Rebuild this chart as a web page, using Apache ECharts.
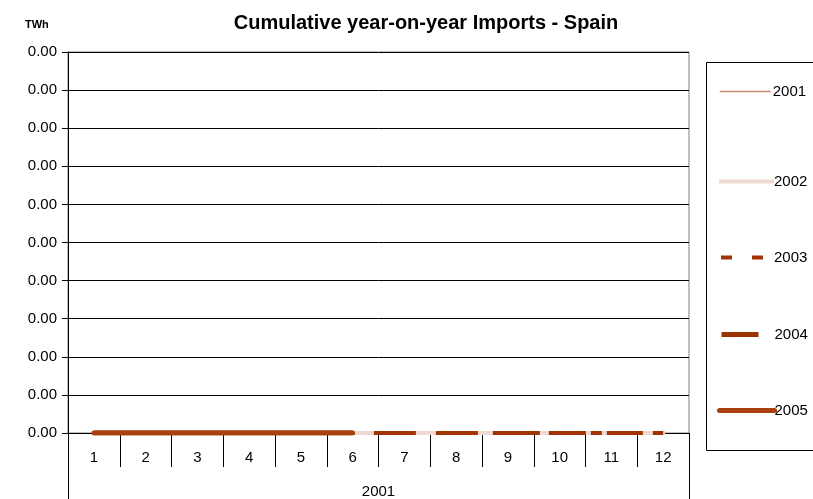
<!DOCTYPE html>
<html>
<head>
<meta charset="utf-8">
<script src="https://cdn.jsdelivr.net/npm/echarts@6/dist/echarts.min.js"></script>
<style>html,body{margin:0;padding:0;background:#fff}#c{width:813px;height:499px}</style>
</head>
<body>
<div id="c"></div>
<script>
const months = ['1','2','3','4','5','6','7','8','9','10','11','12'];
const groupLabels = ['2001'];
const seriesNames = ['2001','2002','2003','2004','2005'];
const v2001 = [0,0,0,0,0,0,0,0,0,0,0,0];
const v2002 = [0,0,0,0,0,0,0,0,0,0,0,0];
const v2003 = [0,0,0,0,0,0,0,0,0,0,0,0];
const v2004 = [0,0,0,0,0,0,null,null,null,null,null,null];
const v2005 = [0,0,0,0,0,0,null,null,null,null,null,null];
const yMin = 0, yMax = 0.001, yStep = 0.0001;

const FONT = '"Liberation Sans", Arial, sans-serif';
const dash2003 = [259,21,42,20,42,15,47,9,37,5,11,5,36,10,40];
const styles = [
  {color:'#c98a6e', width:1.5, type:'solid', cap:'butt', legendType:'solid', iw:51, pad:-3},
  {color:'#eedad1', width:4, type:'solid', cap:'square', legendType:'solid', iw:55, pad:-5},
  {color:'#a33300', width:4, type:dash2003, cap:'butt', legendType:[11,20], iw:42, pad:6},
  {color:'#993300', width:5, type:'solid', cap:'butt', legendType:'solid', iw:37, pad:11},
  {color:'#a8400f', width:5, type:'solid', cap:'round', legendType:'solid', iw:55, pad:-5}
];
const values = [v2001, v2002, v2003, v2004, v2005];
const legendY = [91, 181, 257, 334, 410];
const legendX = [719, 717, 719, 719, 717];

const chart = echarts.init(document.getElementById('c'), null, {renderer:'canvas'});
const series = seriesNames.map((n,i)=>({
  name:n, type:'line', data:values[i], symbol:'none', connectNulls:false,
  lineStyle:{color:styles[i].color, width:styles[i].width, type:styles[i].type, cap:styles[i].cap},
  itemStyle:{color:styles[i].color},
  z: 2+i, animation:false
}));
const legends = seriesNames.map((n,i)=>({
  data:[n], orient:'vertical', left:legendX[i], top:legendY[i]-7, padding:0,
  itemWidth:styles[i].iw, itemHeight:14,
  itemStyle:{opacity:0},
  lineStyle:{type:styles[i].legendType, width:styles[i].width, cap:styles[i].cap === 'square' ? 'butt' : styles[i].cap},
  textStyle:{fontFamily:FONT, fontSize:15, color:'#000', padding:[0,0,0,styles[i].pad]},
  selectedMode:false
}));
chart.setOption({
  animation:false,
  backgroundColor:'#fff',
  title:[
    {text:'Cumulative year-on-year Imports - Spain', left:421, textAlign:'center', top:8,
     textStyle:{fontFamily:FONT, fontSize:20, fontWeight:'bold', color:'#000'}},
    {text:'TWh', left:20, top:14, textStyle:{fontFamily:FONT, fontSize:11, fontWeight:'bold', color:'#000'}}
  ],
  legend: legends,
  graphic:[{type:'rect', shape:{x:706.5, y:62.5, width:130, height:388}, style:{fill:'none', stroke:'#000', lineWidth:1}, silent:true, z:-1}],
  grid:{left:68, right:124, top:52, bottom:66, show:true, borderColor:'#808080', borderWidth:1, backgroundColor:'transparent'},
  xAxis:[
    {type:'category', data:months, position:'bottom', boundaryGap:true,
     axisLine:{show:true, lineStyle:{color:'#000', width:1}},
     axisTick:{show:true, length:34, interval:0, alignWithLabel:false, lineStyle:{color:'#000'}},
     axisLabel:{fontFamily:FONT, fontSize:15, color:'#000', margin:17, interval:0}},
    {type:'category', data:groupLabels, position:'bottom', boundaryGap:true,
     axisLine:{show:false},
     axisTick:{show:true, length:70, interval:0, lineStyle:{color:'#000'}},
     axisLabel:{fontFamily:FONT, fontSize:15, color:'#000', margin:51}}
  ],
  yAxis:{type:'value', min:yMin, max:yMax, interval:yStep,
    axisLine:{show:true, lineStyle:{color:'#000'}},
    axisTick:{show:true, length:6, lineStyle:{color:'#000'}},
    axisLabel:{fontFamily:FONT, fontSize:15, color:'#000', margin:11, formatter:v=>v.toFixed(2)},
    splitLine:{show:true, lineStyle:{color:'#000', width:1}}},
  series: series
});
</script>
</body>
</html>
